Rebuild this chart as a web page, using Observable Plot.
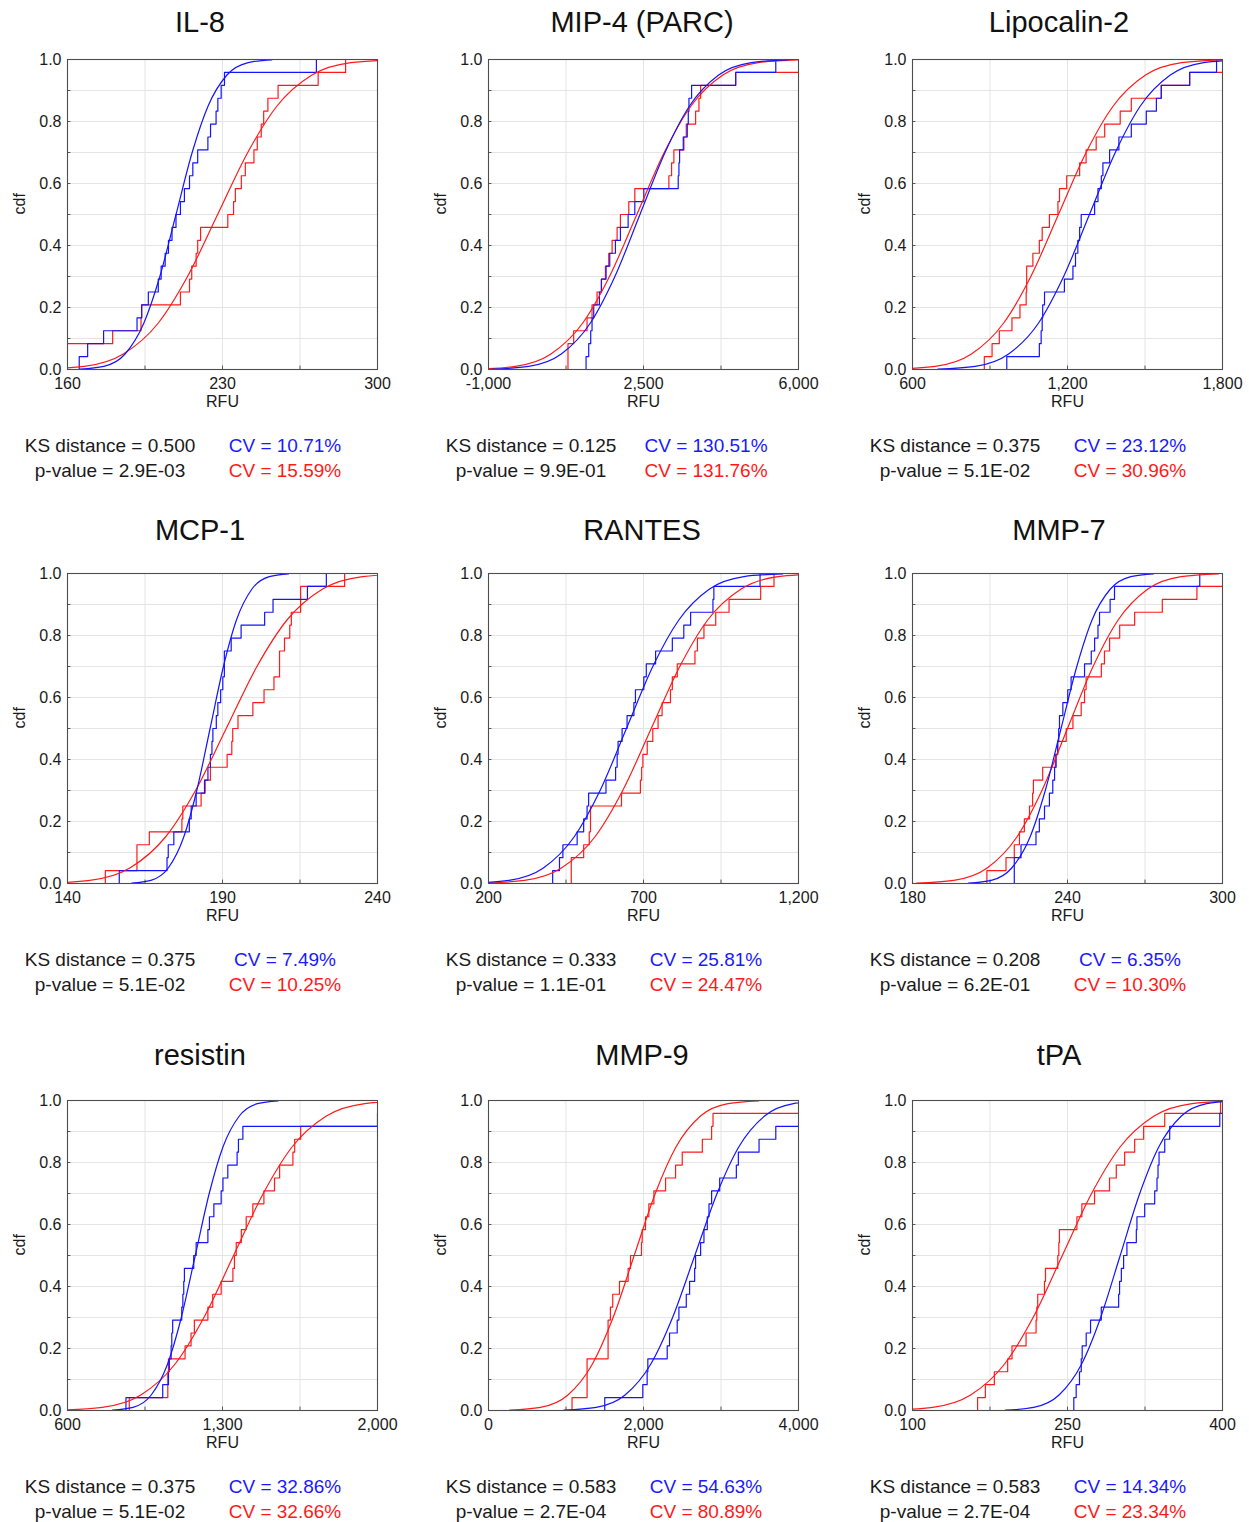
<!DOCTYPE html>
<html>
<head>
<meta charset="utf-8">
<script src="https://cdn.jsdelivr.net/npm/d3@7"></script>
<script src="https://cdn.jsdelivr.net/npm/@observablehq/plot@0.6"></script>
<style>
  html, body { margin: 0; padding: 0; background: #fff; }
  body { font-family: "Liberation Sans", Arial, sans-serif; }
  #root { position: relative; width: 1249px; height: 1522px; overflow: hidden; }
  .title { position: absolute; width: 400px; text-align: center; font-size: 29px; line-height: 34px; color: #111; }
  .stat { position: absolute; white-space: nowrap; font-size: 19px; line-height: 24px; transform: translateX(-50%); }
  svg { position: absolute; overflow: visible; }
</style>
</head>
<body>
<div id="root"></div>
<script>
// ---------------- data ----------------
const panelTitles = ["IL-8", "MIP-4 (PARC)", "Lipocalin-2", "MCP-1", "RANTES", "MMP-7", "resistin", "MMP-9", "tPA"];
const xDomains = [[160, 300], [-1000, 6000], [600, 1800], [140, 240], [200, 1200], [180, 300], [600, 2000], [0, 4000], [100, 400]];
const ksDistances = ["0.500", "0.125", "0.375", "0.375", "0.333", "0.208", "0.375", "0.583", "0.583"];
const pValues = ["2.9E-03", "9.9E-01", "5.1E-02", "5.1E-02", "1.1E-01", "6.2E-01", "5.1E-02", "2.7E-04", "2.7E-04"];
const cvBlue = ["10.71%", "130.51%", "23.12%", "7.49%", "25.81%", "6.35%", "32.86%", "54.63%", "14.34%"];
const cvRed = ["15.59%", "131.76%", "30.96%", "10.25%", "24.47%", "10.30%", "32.66%", "80.89%", "23.34%"];
const yLabelTicks = [0, 0.2, 0.4, 0.6, 0.8, 1.0];
const yGridTicks = [0.1, 0.2, 0.3, 0.4, 0.5, 0.6, 0.7, 0.8, 0.9];

// sorted sample values (RFU), 24 per group; empirical cdf steps
const il8Blue = [165.3, 169.1, 176.3, 191.4, 193.5, 196.5, 201.0, 202.3, 204.1, 205.6, 207.2, 209.0, 211.0, 212.8, 215.1, 216.6, 218.8, 223.4, 224.6, 227.1, 227.9, 229.4, 230.9, 272.4];
const il8Red = [155.5, 156.2, 180.4, 193.2, 193.5, 211.0, 215.1, 216.1, 218.1, 218.8, 220.1, 232.4, 235.0, 235.8, 238.5, 240.3, 244.2, 245.7, 247.5, 248.6, 250.5, 255.1, 273.2, 285.6];
const mip4Blue = [1203, 1263, 1308, 1338, 1376, 1504, 1550, 1655, 1738, 1866, 1979, 2153, 2304, 2507, 3284, 3300, 3315, 3398, 3488, 3511, 3526, 3586, 4582, 5487];
const mip4Red = [795, 795, 923, 1225, 1338, 1451, 1550, 1640, 1715, 1791, 1904, 1979, 2168, 2304, 3073, 3134, 3186, 3412, 3466, 3677, 3752, 3790, 4582, 6392];
const lcn2Blue = [965, 1091, 1098, 1102, 1104, 1111, 1188, 1221, 1231, 1240, 1247, 1253, 1305, 1318, 1331, 1337, 1363, 1399, 1447, 1505, 1544, 1563, 1673, 1777];
const lcn2Red = [878, 908, 936, 985, 1016, 1040, 1042, 1042, 1066, 1091, 1102, 1130, 1163, 1169, 1197, 1247, 1272, 1311, 1344, 1404, 1447, 1563, 1673, 1867];
const mcp1Blue = [156.7, 172.1, 172.5, 174.3, 179.3, 179.9, 181.5, 184.2, 185.3, 186.1, 186.6, 186.9, 188.0, 188.5, 189.4, 190.1, 190.6, 190.6, 192.8, 196.0, 203.6, 206.3, 217.4, 223.5];
const mcp1Red = [152.2, 162.4, 162.4, 166.4, 176.9, 177.2, 183.1, 184.4, 186.1, 191.5, 193.0, 193.3, 195.0, 199.8, 203.4, 206.6, 208.4, 208.4, 210.0, 211.7, 212.2, 215.2, 215.2, 229.4];
const rantesBlue = [407, 429, 440, 486, 507, 518, 523, 579, 610, 615, 618, 631, 647, 669, 674, 701, 709, 739, 793, 830, 852, 924, 927, 1076];
const rantesRed = [467, 467, 507, 525, 529, 529, 629, 690, 694, 698, 712, 730, 747, 760, 787, 793, 809, 866, 874, 895, 933, 976, 1078, 1121];
const mmp7Blue = [219.4, 219.4, 222.0, 227.8, 229.1, 231.1, 233.0, 234.3, 235.0, 235.6, 236.2, 236.6, 236.9, 238.2, 240.1, 241.4, 246.6, 249.2, 250.5, 251.8, 252.4, 256.5, 258.2, 291.2];
const mmp7Red = [208.8, 216.2, 219.4, 221.4, 223.3, 225.3, 226.5, 226.8, 230.4, 235.3, 236.2, 239.5, 242.1, 245.3, 246.6, 247.2, 253.1, 254.3, 256.3, 260.2, 266.0, 276.7, 290.1, 306.7];
const resistinBlue = [864, 1030, 1056, 1060, 1068, 1071, 1075, 1116, 1121, 1125, 1128, 1170, 1181, 1234, 1241, 1261, 1294, 1302, 1324, 1366, 1372, 1392, 2000, 2200];
const resistinRed = [879, 1053, 1053, 1056, 1131, 1158, 1173, 1234, 1256, 1294, 1347, 1354, 1362, 1385, 1407, 1437, 1487, 1535, 1558, 1618, 1626, 1653, 2100, 2300];
const mmp9Blue = [1500, 1991, 2047, 2056, 2306, 2336, 2435, 2457, 2552, 2595, 2660, 2672, 2737, 2780, 2823, 2845, 2879, 2983, 3198, 3224, 3491, 3707, 4700, 5100];
const mmp9Red = [1078, 1272, 1272, 1272, 1543, 1543, 1543, 1573, 1603, 1690, 1802, 1832, 1974, 1983, 2026, 2069, 2134, 2285, 2414, 2500, 2759, 2879, 2897, 4655];
const tpaBlue = [256.1, 258.4, 261.6, 263.3, 264.2, 268.1, 272.3, 282.7, 299.5, 300.4, 302.1, 304.3, 307.5, 316.6, 317.2, 324.7, 334.4, 336.6, 337.6, 338.6, 344.1, 348.9, 397.4, 416.8];
const tpaRed = [163.0, 170.5, 179.2, 192.1, 196.3, 209.9, 219.6, 220.3, 221.2, 227.7, 228.7, 240.6, 241.6, 242.2, 259.1, 263.9, 276.2, 290.7, 297.2, 305.3, 315.0, 323.7, 344.1, 398.1];

// smooth fitted cdf curves: RFU read at these cdf levels
const cdfLevels = [0.001, 0.01, 0.05, 0.15, 0.3, 0.5, 0.7, 0.85, 0.95, 0.99, 0.999];
const il8BlueFit = [165.7, 176.4, 186.0, 194.5, 201.7, 209, 216.3, 223.5, 232.0, 241.6, 252.3];
const il8RedFit = [147.8, 167.6, 185.2, 201.0, 214.2, 227.8, 241.4, 254.6, 270.4, 288.0, 307.8];
const mip4BlueFit = [-917, -92, 643, 1301, 1854, 2420, 2986, 3539, 4197, 4932, 5757];
const mip4RedFit = [-1296, -395, 409, 1128, 1732, 2350, 2968, 3572, 4291, 5095, 5996];
const lcn2BlueFit = [698, 843, 972, 1088, 1185, 1285, 1385, 1482, 1598, 1727, 1872];
const lcn2RedFit = [532, 688, 828, 953, 1058, 1165, 1272, 1377, 1502, 1642, 1798];
const mcp1BlueFit = [160.7, 166.9, 172.5, 177.5, 181.7, 186, 190.3, 194.5, 199.5, 205.1, 211.3];
const mcp1RedFit = [132.8, 147.2, 160.1, 171.6, 181.3, 191.2, 201.1, 210.8, 222.3, 235.2, 249.6];
const rantesBlueFit = [141, 266, 377, 476, 560, 645, 730, 814, 913, 1024, 1149];
const rantesRedFit = [181, 316, 435, 543, 633, 725, 817, 907, 1015, 1134, 1269];
const mmp7BlueFit = [201.7, 210.5, 218.4, 225.5, 231.4, 237.5, 243.6, 249.5, 256.6, 264.5, 273.3];
const mmp7RedFit = [181.6, 196.0, 208.9, 220.4, 230.1, 240, 249.9, 259.6, 271.1, 284.0, 298.4];
const resistinBlueFit = [803, 896, 978, 1052, 1114, 1177, 1240, 1302, 1376, 1458, 1551];
const resistinRedFit = [562, 757, 931, 1086, 1216, 1350, 1484, 1614, 1769, 1943, 2138];
const mmp9BlueFit = [972, 1390, 1762, 2095, 2375, 2662, 2949, 3229, 3562, 3934, 4352];
const mmp9RedFit = [273, 670, 1025, 1341, 1608, 1880, 2152, 2419, 2735, 3090, 3487];
const tpaBlueFit = [189.8, 217.3, 241.8, 263.7, 282.1, 301, 319.9, 338.3, 360.2, 384.7, 412.2];
const tpaRedFit = [78.1, 119.4, 156.2, 189.1, 216.7, 245, 273.3, 300.9, 333.8, 370.6, 411.9];

const blueSamples = [il8Blue, mip4Blue, lcn2Blue, mcp1Blue, rantesBlue, mmp7Blue, resistinBlue, mmp9Blue, tpaBlue];
const redSamples = [il8Red, mip4Red, lcn2Red, mcp1Red, rantesRed, mmp7Red, resistinRed, mmp9Red, tpaRed];
const blueFits = [il8BlueFit, mip4BlueFit, lcn2BlueFit, mcp1BlueFit, rantesBlueFit, mmp7BlueFit, resistinBlueFit, mmp9BlueFit, tpaBlueFit];
const redFits = [il8RedFit, mip4RedFit, lcn2RedFit, mcp1RedFit, rantesRedFit, mmp7RedFit, resistinRedFit, mmp9RedFit, tpaRedFit];

// ---------------- layout ----------------
const FONT = '"Liberation Sans", Arial, Helvetica, sans-serif';
const BLUE = "#1414ff";
const RED = "#ff1a1a";
const BLUE_TXT = "#1a1aff";
const RED_TXT = "#ff1a1a";
const colPlotLeft = [67, 488, 912];
const rowPlotTop = [59, 573, 1100];
const titleCenterX = [200, 642, 1059];
const titleCenterY = [22, 530, 1055];
const PW = 310, PH = 310;
const ML = 67, MR = 45, MT = 10, MB = 60;

const root = document.getElementById("root");
const fmt = d => d3.format(",")(d).replace("\u2212", "-");

function ecdfPoints(values, xMax) {
  const n = values.length;
  const pts = [{x: values[0], y: 0}];
  values.forEach((v, i) => pts.push({x: v, y: (i + 1) / n}));
  pts.push({x: Math.max(xMax, values[n - 1]), y: 1});
  return pts;
}
function fitPoints(xs) {
  return xs.map((x, i) => ({x, y: cdfLevels[i]}));
}

for (let i = 0; i < 9; i++) {
  const r = Math.floor(i / 3), c = i % 3;
  const dom = xDomains[i];
  const span = dom[1] - dom[0];
  const xLabelTicks = [dom[0], dom[0] + span / 2, dom[1]];
  const xGrid = [dom[0] + span / 4, dom[0] + span / 2, dom[0] + 3 * span / 4];

  const svg = Plot.plot({
    width: ML + PW + MR,
    height: MT + PH + MB,
    marginLeft: ML, marginRight: MR, marginTop: MT, marginBottom: MB,
    style: {fontFamily: FONT, fontSize: "16px", color: "#1a1a1a", background: "transparent", overflow: "visible"},
    x: {domain: dom},
    y: {domain: [0, 1]},
    marks: [
      Plot.ruleY(yGridTicks, {stroke: "#e4e4e4", strokeWidth: 1}),
      Plot.ruleX(xGrid, {stroke: "#e4e4e4", strokeWidth: 1}),
      Plot.ruleY(yGridTicks, {x1: dom[0], x2: dom[0] + span * 0.011, stroke: "#555"}),
      Plot.ruleX(xGrid, {y1: 0, y2: 0.011, stroke: "#555"}),
      Plot.line(ecdfPoints(redSamples[i], dom[1]), {x: "x", y: "y", curve: "step-after", stroke: RED, strokeWidth: 1.2, clip: true}),
      Plot.line(ecdfPoints(blueSamples[i], dom[1]), {x: "x", y: "y", curve: "step-after", stroke: BLUE, strokeWidth: 1.2, clip: true}),
      Plot.line(fitPoints(redFits[i]), {x: "x", y: "y", curve: "monotone-x", stroke: RED, strokeWidth: 1.2, clip: true}),
      Plot.line(fitPoints(blueFits[i]), {x: "x", y: "y", curve: "monotone-x", stroke: BLUE, strokeWidth: 1.2, clip: true}),
      Plot.frame({stroke: "#4d4d4d", strokeWidth: 1.1}),
      Plot.axisY(yLabelTicks, {tickSize: 0, tickPadding: 6, tickFormat: d => d.toFixed(1), label: null, fontSize: 16}),
      Plot.axisX(xLabelTicks, {tickSize: 0, tickPadding: 8, tickFormat: fmt, label: null, fontSize: 16}),
      Plot.text(["cdf"], {text: d => d, frameAnchor: "left", dx: -48, rotate: -90, fontSize: 16}),
      Plot.text(["RFU"], {text: d => d, frameAnchor: "bottom", dy: 37, fontSize: 16})
    ]
  });
  svg.style.left = (colPlotLeft[c] - ML) + "px";
  svg.style.top = (rowPlotTop[r] - MT) + "px";
  root.appendChild(svg);

  const t = document.createElement("div");
  t.className = "title";
  t.textContent = panelTitles[i];
  t.style.left = (titleCenterX[c] - 200) + "px";
  t.style.top = (titleCenterY[r] - 17) + "px";
  root.appendChild(t);

  const plotBottom = rowPlotTop[r] + PH;
  const addStat = (text, cx, cy, color) => {
    const d = document.createElement("div");
    d.className = "stat";
    d.textContent = text;
    d.style.left = cx + "px";
    d.style.top = (cy - 12) + "px";
    d.style.color = color;
    root.appendChild(d);
  };
  addStat("KS distance = " + ksDistances[i], colPlotLeft[c] + 43, plotBottom + 77, "#1a1a1a");
  addStat("p-value = " + pValues[i], colPlotLeft[c] + 43, plotBottom + 102, "#1a1a1a");
  addStat("CV = " + cvBlue[i], colPlotLeft[c] + 218, plotBottom + 77, BLUE_TXT);
  addStat("CV = " + cvRed[i], colPlotLeft[c] + 218, plotBottom + 102, RED_TXT);
}
</script>
</body>
</html>
